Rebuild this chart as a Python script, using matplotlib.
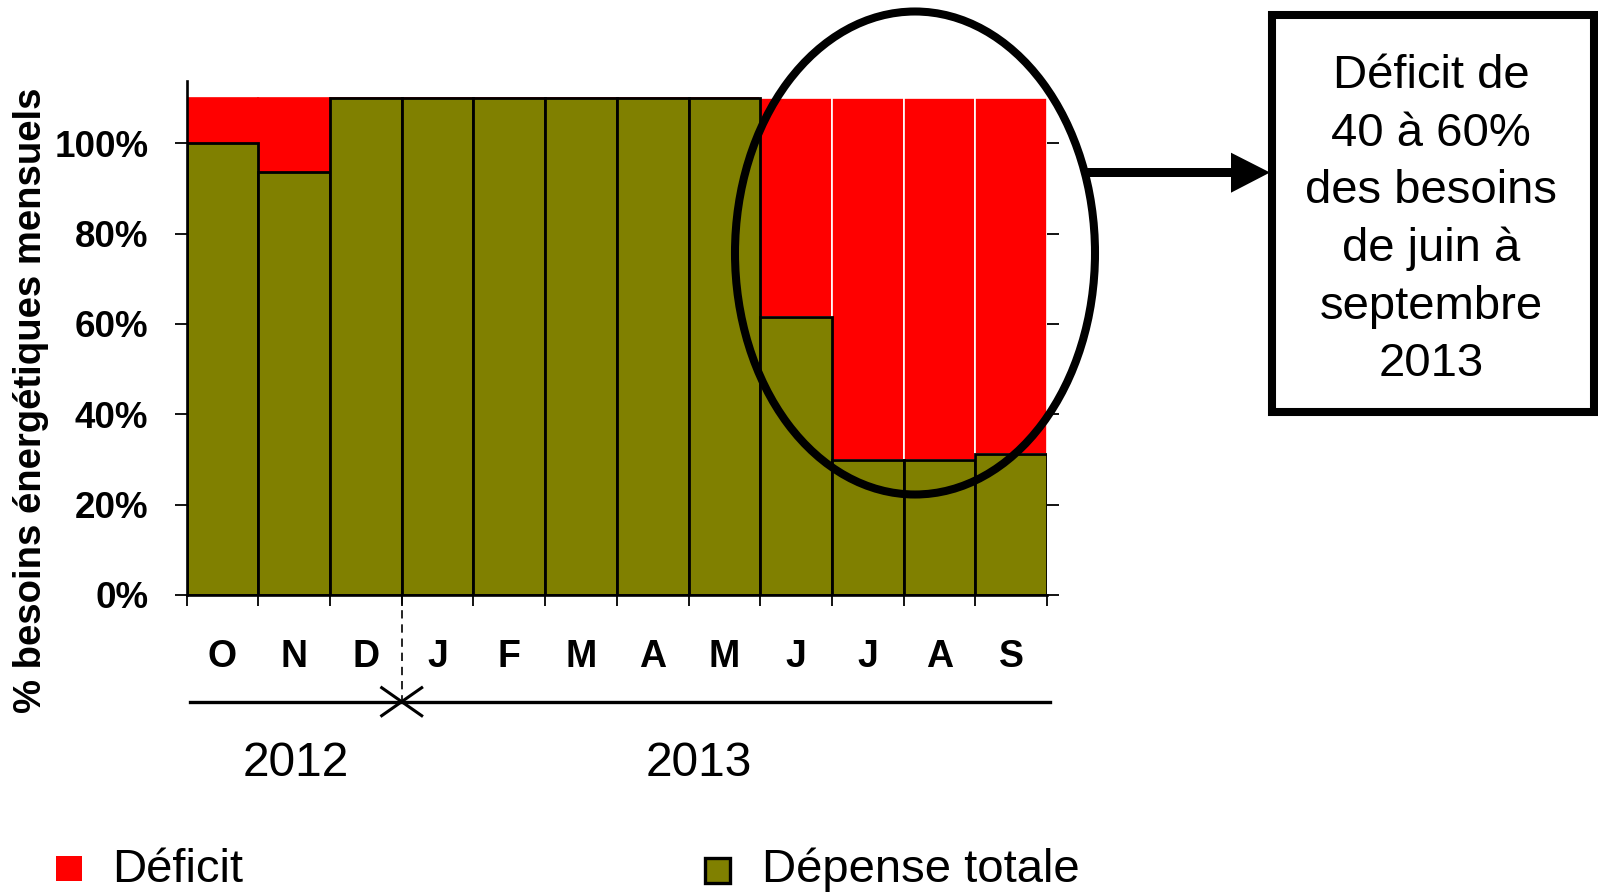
import numpy as np
import matplotlib
matplotlib.use("Agg")
import matplotlib.pyplot as plt
from matplotlib.patches import Ellipse, Rectangle, Polygon
from matplotlib.lines import Line2D
from matplotlib.transforms import blended_transform_factory

plt.rcParams['font.family'] = ['Liberation Sans', 'DejaVu Sans']

# ---- data ----
months = ['O', 'N', 'D', 'J', 'F', 'M', 'A', 'M', 'J', 'J', 'A', 'S']
depense_totale = [100, 93.7, 110, 110, 110, 110, 110, 110, 61.5, 29.8, 29.8, 31.2]
deficit = [10, 16.3, 0, 0, 0, 0, 0, 0, 48.5, 80.2, 80.2, 78.8]
ytick_values = [0, 20, 40, 60, 80, 100]
ytick_labels = ['0%', '20%', '40%', '60%', '80%', '100%']
years = ['2012', '2013']
series_names = ['Déficit', 'Dépense totale']
ylabel = '% besoins énergétiques mensuels'
box_lines = ['Déficit de', '40 à 60%', 'des besoins', 'de juin à', 'septembre', '2013']

W, H = 1598, 892
fig = plt.figure(figsize=(W / 100, H / 100), dpi=100)


def fx(x):
    return x / W


def fy(y):
    return 1 - y / H


ax = fig.add_axes([fx(186.7), fy(595), fx(1047) - fx(186.7), fy(81) - fy(595)])

x = np.arange(len(months))
red_edges = ['#FF0000'] * 8 + ['white'] * 4
ax.bar(x, deficit, bottom=depense_totale, width=1.0, color='#FF0000',
       edgecolor=red_edges, linewidth=1.2, zorder=2)
ax.bar(x, depense_totale, width=1.0, color='#808000', edgecolor='black',
       linewidth=2.0, zorder=3)

ax.set_xlim(-0.5, len(months) - 0.5)
ax.set_ylim(0, 113.8)

for s in ['top', 'right']:
    ax.spines[s].set_visible(False)
for s in ['left', 'bottom']:
    ax.spines[s].set_linewidth(1.9)
    ax.spines[s].set_zorder(4)

ax.set_yticks(ytick_values)
ax.set_yticklabels(ytick_labels, fontsize=26.5, fontweight='bold')
ax.tick_params(axis='y', which='major', left=True, right=True, direction='out',
               length=8.6, width=1.3, pad=19)

ax.set_xticks(np.arange(-0.5, len(months), 1.0))
ax.set_xticklabels([''] * (len(months) + 1))
ax.set_xticks(x, minor=True)
ax.set_xticklabels(months, minor=True, fontsize=27, fontweight='bold')
ax.tick_params(axis='x', which='major', direction='out', length=8, width=1.3)
ax.tick_params(axis='x', which='minor', length=0, pad=31.5)

# y label
fig.text(fx(31), fy(400), ylabel, rotation=90, ha='center', va='center',
         fontsize=27.5, fontweight='bold')

# dashed separator between years
trans = blended_transform_factory(ax.transData, fig.transFigure)
ax.plot([2.5, 2.5], [fy(596), fy(701.7)], transform=trans, ls=(0, (5, 3.5)),
        lw=1.2, color='black', clip_on=False)

# timeline
fig.add_artist(Line2D([fx(190), fx(1049.6)], [fy(701.7), fy(701.7)], lw=2.4, color='black'))
vx, vy = 401.7, 701.7
for sx in (-20, 20):
    fig.add_artist(Line2D([fx(vx + sx), fx(vx), fx(vx + sx)],
                          [fy(vy - 14), fy(vy), fy(vy + 14)], lw=2.2, color='black'))

fig.text(fx(295.7), fy(776.5), years[0], ha='center', va='baseline', fontsize=34.5)
fig.text(fx(699), fy(776.5), years[1], ha='center', va='baseline', fontsize=34.5)

# ellipse highlight
fig.add_artist(Ellipse((fx(915), fy(253)), width=360 / W, height=483 / H,
                       transform=fig.transFigure, fill=False, lw=5.8, ec='black'))

# arrow
fig.add_artist(Rectangle((fx(1086.7), fy(176.7)), (1232 - 1086.7) / W, (176.7 - 168.3) / H,
                         transform=fig.transFigure, color='black', lw=0))
fig.add_artist(Polygon([(fx(1231), fy(152.7)), (fx(1270), fy(172.5)), (fx(1231), fy(192.7))],
                       closed=True, transform=fig.transFigure, color='black', lw=0))

# text box
fig.add_artist(Rectangle((fx(1272), fy(411.7)), (1594 - 1272) / W, (411.7 - 15) / H,
                         transform=fig.transFigure, fill=False, lw=5.8, ec='black',
                         joinstyle='miter'))
baseline0 = 88.0
for i, line in enumerate(box_lines):
    fig.text(fx(1431), fy(baseline0 + i * 57.7), line, ha='center', va='baseline', fontsize=34)

# legend (manual)
fig.add_artist(Rectangle((fx(56), fy(881)), 25.5 / W, 25 / H, transform=fig.transFigure,
                         color='#FF0000', lw=0))
fig.text(fx(112), fy(881.5), series_names[0], ha='left', va='baseline', fontsize=34)
fig.add_artist(Rectangle((fx(704.5), fy(883)), 25.5 / W, 25.5 / H, transform=fig.transFigure,
                         fc='#808000', ec='black', lw=2.4))
fig.text(fx(762), fy(881.5), series_names[1], ha='left', va='baseline', fontsize=34)

fig.savefig('out.png', dpi=100)
